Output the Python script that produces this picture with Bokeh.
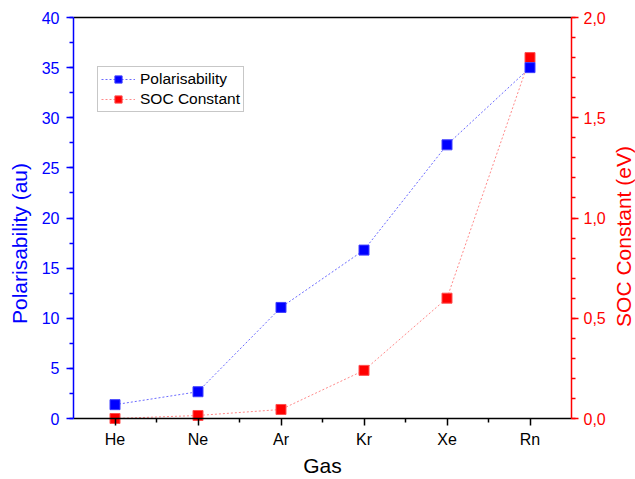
import math
from bokeh.plotting import figure
from bokeh.models import (Range1d, LinearAxis, FixedTicker, SingleIntervalTicker,
                          CustomJSTickFormatter, Legend, LegendItem, ColumnDataSource, Label)
from bokeh.embed import file_html
from bokeh.resources import INLINE

gases = ["He", "Ne", "Ar", "Kr", "Xe", "Rn"]
polarisability = [1.38, 2.67, 11.08, 16.8, 27.3, 35.0]
soc_constant = [0.0, 0.015, 0.045, 0.24, 0.60, 1.80]

x_pos = list(range(1, len(gases) + 1))
src = ColumnDataSource(dict(x=x_pos, pol=polarisability, soc=soc_constant))

BLUE = "#0000ff"
RED = "#ff0000"
FONT = "Liberation Sans"

# The frame fills the page to the right, top and bottom; the visible box is drawn with bounded axes
W, H, LEFT, BOX_W, BOX_H, TOP_PAD = 635, 479, 73, 498, 401, 10
BOTTOM_PAD = H - TOP_PAD - 7 - BOX_H  # space below the box (61 px)
X0, X1 = 0.5, 6.5
Y0, Y1 = 0, 40
S0, S1 = 0, 2.0
X_END = X0 + (X1 - X0) * (W - LEFT) / BOX_W
PPU = BOX_H / (Y1 - Y0)
Y_LO, Y_HI = Y0 - BOTTOM_PAD / PPU, Y1 + TOP_PAD / PPU
K = (S1 - S0) / (Y1 - Y0)

p = figure(width=W, height=H, output_backend="svg", toolbar_location=None,
           x_range=Range1d(X0, X_END), y_range=Range1d(Y_LO, Y_HI),
           min_border_left=LEFT, min_border_right=0, min_border_top=7, min_border_bottom=0)
p.extra_y_ranges = {"soc": Range1d(Y_LO * K, Y_HI * K)}
p.xgrid.visible = False
p.ygrid.visible = False
p.outline_line_color = None
p.background_fill_color = "white"
p.border_fill_color = "white"

# lines
l1 = p.line("x", "pol", source=src, line_color="#6a6aff", line_width=1, line_dash="2 2")
l2 = p.line("x", "soc", source=src, y_range_name="soc", line_color="#ff8a8a", line_width=1, line_dash="2 2")
m2 = p.scatter("x", "soc", source=src, y_range_name="soc", marker="square", size=10,
               fill_color=RED, line_color="#ff5050", line_width=1)
m1 = p.scatter("x", "pol", source=src, marker="square", size=10,
               fill_color=BLUE, line_color="#4040ff", line_width=1)


def style(ax, col):
    ax.axis_line_color = col
    ax.axis_line_width = 1.5
    ax.major_tick_line_color = col
    ax.minor_tick_line_color = col
    ax.major_tick_line_width = 1.5
    ax.minor_tick_line_width = 1.5
    ax.major_tick_out = 7
    ax.major_tick_in = 0
    ax.minor_tick_out = 4
    ax.minor_tick_in = 0
    ax.major_label_text_color = col
    ax.major_label_text_font = FONT
    ax.major_label_text_font_size = "16px"
    ax.axis_label_text_color = col
    ax.axis_label_text_font = FONT
    ax.axis_label_text_font_size = "21px"
    ax.axis_label_text_font_style = "normal"
    ax.major_label_standoff = 5


# x axis
xa = p.xaxis[0]
xa.ticker = FixedTicker(ticks=x_pos, minor_ticks=[1.5, 2.5, 3.5, 4.5, 5.5])
xa.major_label_overrides = {i: g for i, g in zip(x_pos, gases)}
xa.axis_label = "Gas"
xa.bounds = (X0, X1)
xa.fixed_location = Y0
style(xa, "black")
xa.axis_label_standoff = 3

# top border of the box
top = LinearAxis(fixed_location=Y1, bounds=(X0, X1))
top.ticker = FixedTicker(ticks=[])
top.major_label_text_font_size = "0px"
top.axis_line_color = "black"
top.axis_line_width = 1.5
top.major_tick_line_color = None
top.minor_tick_line_color = None
p.add_layout(top, "above")

ya = p.yaxis[0]
ya.ticker = SingleIntervalTicker(interval=5, num_minor_ticks=2)
ya.axis_label = "Polarisability (au)"
ya.bounds = (Y0, Y1)
style(ya, BLUE)
ya.major_label_standoff = 7
ya.axis_label_standoff = 8

ra = LinearAxis(y_range_name="soc", fixed_location=X1, bounds=(S0, S1))
ra.ticker = SingleIntervalTicker(interval=0.5, num_minor_ticks=5)
ra.formatter = CustomJSTickFormatter(code="return tick.toFixed(1).replace('.', ',');")
style(ra, RED)
p.add_layout(ra, "right")

# right axis title (reads bottom-to-top, as in the reference)
soc_title = Label(x=550, y=243, x_units="screen", y_units="screen", text="SOC Constant (eV)",
                  angle=math.pi / 2, text_align="center", text_baseline="middle",
                  text_font=FONT, text_font_size="21px", text_color=RED)
p.add_layout(soc_title)

legend = Legend(items=[LegendItem(label="Polarisability", renderers=[l1, m1]),
                       LegendItem(label="SOC Constant", renderers=[l2, m2])],
                location=(24, 306 + BOTTOM_PAD))
legend.label_text_font = FONT
legend.label_text_font_size = "15.5px"
legend.label_text_color = "black"
legend.border_line_color = "#909090"
legend.border_line_width = 1
legend.padding = 3
legend.spacing = 2
legend.margin = 0
legend.glyph_width = 34
legend.glyph_height = 18
legend.label_height = 18
legend.label_standoff = 5
p.add_layout(legend, "center")

open("out.html", "w").write(file_html(p, INLINE))
